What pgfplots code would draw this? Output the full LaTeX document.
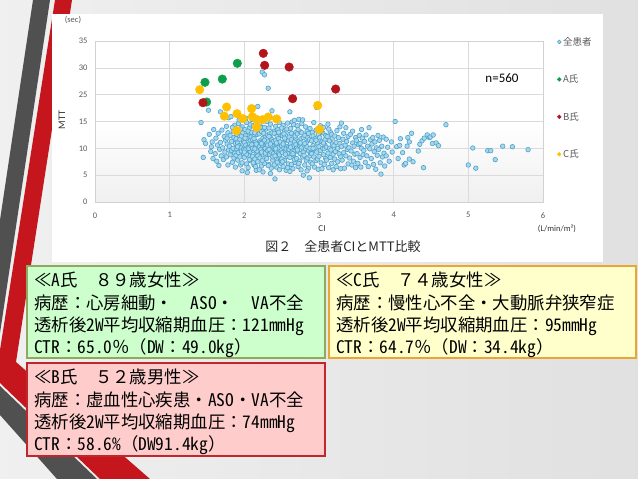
\documentclass[border=0pt]{standalone}
\usepackage{fontspec}
\usepackage{pgfplots}
\pgfplotsset{compat=1.18}
\setmainfont{Carlito}
\newfontfamily\jp{Noto Sans CJK JP}
\newfontfamily\hwfont[RawFeature=+hwid]{Noto Sans CJK JP}
\newcommand{\hw}[1]{{\hwfont #1}}
\definecolor{bluestroke}{HTML}{4BA3CC}
\definecolor{bluefill}{HTML}{A9D6EC}
\definecolor{agreen}{HTML}{0E9F4B}
\definecolor{bred}{HTML}{B3151B}
\definecolor{cyel}{HTML}{FFC000}
\definecolor{afill}{HTML}{CCFFCC}
\definecolor{aline}{HTML}{8FAA5C}
\definecolor{bfill}{HTML}{FFCCCC}
\definecolor{bline}{HTML}{C0272D}
\definecolor{cfill}{HTML}{FFFFCC}
\definecolor{cline}{HTML}{E8A735}
\definecolor{txtgray}{HTML}{595959}
\definecolor{stripedark}{HTML}{505050}
\definecolor{stripered}{HTML}{C4161C}
\begin{document}
\begin{tikzpicture}[x=1pt,y=1pt]
\useasboundingbox (0,0) rectangle (638,479);
\shade[left color=gray!12, right color=gray!24] (0,0) rectangle (638,479);
% decorative stripes
\fill[stripedark] (33,479) -- (50,479) -- (0,146) -- (0,259) -- cycle;
\fill[stripedark] (0,93) -- (97,0) -- (57,0) -- (0,64) -- cycle;
\fill[stripered] (55,479) -- (72,479) -- (16,117) -- (150,0) -- (100,0) -- (0,96) -- (0,129) -- cycle;
% chart area
\fill[white] (52,217) rectangle (603,465);
\begin{axis}[
  at={(95pt,277pt)}, anchor=south west,
  scale only axis, width=448pt, height=161pt,
  xmin=0, xmax=6, ymin=0, ymax=30,
  xtick={0,1,...,6}, ytick={0,5,...,30},
  yticklabels={0,5,10,15,25,30,35},
  grid=major, grid style={gray!28, line width=0.6pt},
  axis line style={gray!35, line width=0.6pt},
  major tick length=0pt,
  axis background/.style={shade, top color=white, bottom color=gray!12, middle color=white},
  /pgf/number format/assume math mode=true,
  ticklabel style={font=\fontsize{8.5}{10}\selectfont, text=txtgray},
  xticklabel style={yshift=-7pt},
  yticklabel style={xshift=-4pt},
  legend style={at={(1.025,1.05)}, anchor=north west, draw=none, fill=none,
    font=\jp\fontsize{9.5}{11}\selectfont, text=txtgray, row sep=24pt},
  legend cell align=left,
  legend image code/.code={\draw[#1, mark size=1.9pt] plot coordinates {(0.1cm,0cm)};},
]
\addplot[only marks, mark=*, mark size=2.3pt, mark options={draw=bluestroke, fill=bluefill, line width=0.6pt}] coordinates {
(1.42,14.8) (1.46,11.6) (1.48,10.9) (1.45,8.3)
(1.52,17.1) (1.53,12.6) (1.55,9.4) (1.57,11.2) (1.58,8.1) (1.56,10.3) (1.59,13.5)
(1.61,9.0) (1.62,11.9) (1.63,7.6) (1.64,10.6) (1.65,12.8) (1.66,6.8) (1.67,9.8) (1.68,16.8) (1.68,11.1) (1.69,8.6)
(1.70,13.4) (1.71,10.1) (1.72,7.9) (1.73,12.2) (1.74,9.3) (1.75,11.5) (1.76,14.1) (1.76,8.4) (1.77,10.8) (1.78,12.9) (1.78,6.9) (1.79,9.7) (1.79,15.7) (1.77,11.9)
(1.80,10.4) (1.81,8.8) (1.81,12.4) (1.82,15.9) (1.83,9.6) (1.83,11.3) (1.84,7.4) (1.85,13.2) (1.85,10.0) (1.86,8.2) (1.86,12.0) (1.87,9.1) (1.87,14.3) (1.88,10.9) (1.88,6.5) (1.89,11.8) (1.89,8.7) (1.84,13.9)
(1.90,9.9) (1.90,12.6) (1.91,7.8) (1.91,11.0) (1.92,14.6) (1.92,9.2) (1.93,10.5) (1.93,13.1) (1.94,8.4) (1.94,11.7) (1.95,6.9) (1.95,10.1) (1.96,12.3) (1.96,9.5) (1.97,14.0) (1.97,7.3) (1.98,10.8) (1.98,12.9) (1.99,8.9) (1.99,11.4) (1.93,15.3) (1.97,5.8) (1.95,13.6) (1.99,9.8) (1.91,10.3)
(2.00,11.1) (2.00,8.3) (2.01,13.5) (2.01,9.7) (2.02,10.6) (2.02,12.4) (2.03,7.1) (2.03,14.8) (2.04,9.0) (2.04,11.8) (2.05,10.2) (2.05,6.4) (2.06,12.9) (2.06,8.7) (2.07,10.9) (2.07,13.9) (2.08,9.4) (2.08,11.5) (2.09,7.7) (2.09,12.1) (2.02,15.6) (2.04,5.5) (2.06,10.0) (2.08,14.4) (2.01,11.9) (2.03,8.9) (2.05,13.2) (2.07,7.9) (2.09,10.4) (2.00,9.3)
(2.10,10.7) (2.10,13.0) (2.11,8.5) (2.11,11.6) (2.12,9.6) (2.12,14.2) (2.13,6.9) (2.13,12.2) (2.14,10.1) (2.14,8.0) (2.15,11.3) (2.15,13.7) (2.16,9.2) (2.16,5.9) (2.17,12.6) (2.17,10.5) (2.18,7.5) (2.18,14.9) (2.19,11.0) (2.19,9.0) (2.10,15.4) (2.12,7.3) (2.14,12.9) (2.16,10.8) (2.18,8.6) (2.11,10.0) (2.13,11.8) (2.15,6.6) (2.17,9.5) (2.19,13.4) (2.18,17.8) (2.14,9.9)
(2.20,10.3) (2.20,12.7) (2.21,8.2) (2.21,11.4) (2.22,9.8) (2.22,14.0) (2.23,6.7) (2.23,13.1) (2.24,10.6) (2.24,24.2) (2.25,8.8) (2.25,11.9) (2.26,9.4) (2.26,15.1) (2.27,23.7) (2.27,7.2) (2.28,12.3) (2.28,10.0) (2.29,8.5) (2.29,13.6) (2.20,6.0) (2.22,11.1) (2.24,7.7) (2.26,12.8) (2.28,9.1) (2.21,14.6) (2.23,10.9) (2.25,5.6) (2.27,11.5) (2.29,10.7) (2.23,9.3) (2.27,13.9)
(2.30,10.9) (2.30,8.1) (2.31,12.5) (2.31,9.6) (2.32,21.2) (2.32,11.2) (2.33,7.0) (2.33,13.8) (2.34,10.2) (2.34,8.9) (2.35,12.0) (2.35,14.5) (2.36,9.3) (2.36,6.3) (2.37,17.0) (2.37,11.6) (2.38,10.4) (2.38,7.8) (2.39,13.2) (2.39,9.0) (2.30,15.0) (2.32,6.8) (2.34,12.7) (2.36,11.0) (2.38,8.4) (2.31,10.6) (2.33,9.8) (2.35,5.3) (2.37,12.9) (2.39,11.3) (2.35,10.8) (2.33,12.2)
(2.40,10.0) (2.40,12.8) (2.41,4.3) (2.41,8.6) (2.42,11.5) (2.42,14.1) (2.43,9.4) (2.43,6.5) (2.44,12.2) (2.44,10.7) (2.45,7.9) (2.45,13.5) (2.46,9.1) (2.46,11.8) (2.47,6.0) (2.47,14.8) (2.48,10.3) (2.48,8.2) (2.49,12.5) (2.49,9.7) (2.41,15.6) (2.43,11.0) (2.45,10.1) (2.47,8.8) (2.49,7.2) (2.42,9.9) (2.44,7.4) (2.46,13.0) (2.48,11.2) (2.40,6.9)
(2.50,10.5) (2.50,8.0) (2.51,12.4) (2.51,9.2) (2.52,14.3) (2.52,6.6) (2.53,11.1) (2.53,10.0) (2.54,7.7) (2.54,13.3) (2.55,9.6) (2.55,11.7) (2.56,5.9) (2.56,12.9) (2.57,10.3) (2.57,8.5) (2.58,14.7) (2.58,9.1) (2.59,11.4) (2.59,7.1) (2.50,13.8) (2.52,10.8) (2.54,11.9) (2.56,9.9) (2.58,6.4) (2.51,7.5) (2.53,12.7) (2.55,8.9) (2.57,13.6) (2.59,10.1)
(2.60,9.8) (2.60,12.1) (2.61,16.8) (2.61,8.3) (2.62,10.9) (2.62,13.7) (2.63,7.0) (2.63,11.6) (2.64,9.3) (2.64,14.9) (2.65,10.4) (2.65,6.2) (2.66,12.6) (2.66,8.8) (2.67,11.2) (2.67,15.2) (2.68,9.6) (2.68,7.4) (2.69,13.0) (2.69,10.7) (2.61,5.7) (2.63,12.8) (2.65,9.0) (2.67,7.9) (2.69,11.9) (2.62,10.2) (2.66,14.4) (2.68,12.3)
(2.70,10.0) (2.70,8.1) (2.71,12.7) (2.71,14.2) (2.72,9.4) (2.72,6.6) (2.73,11.3) (2.73,15.4) (2.74,7.6) (2.74,10.8) (2.75,13.1) (2.75,9.0) (2.76,11.8) (2.76,6.0) (2.77,10.2) (2.77,14.6) (2.78,8.4) (2.78,15.3) (2.79,5.0) (2.79,12.0) (2.71,9.7) (2.73,7.2) (2.75,11.0) (2.77,12.9) (2.79,9.3) (2.72,13.5)
(2.80,10.6) (2.80,8.7) (2.81,12.4) (2.81,6.9) (2.82,9.9) (2.82,14.0) (2.83,11.1) (2.83,7.8) (2.84,13.2) (2.84,10.3) (2.85,8.2) (2.85,12.0) (2.86,9.5) (2.86,6.3) (2.87,4.5) (2.87,11.6) (2.88,10.0) (2.88,13.7) (2.89,7.4) (2.89,9.1) (2.81,10.9) (2.84,5.8) (2.86,12.8) (2.88,8.6)
(2.90,11.4) (2.90,9.0) (2.91,13.0) (2.91,7.1) (2.92,10.5) (2.92,12.3) (2.93,8.4) (2.93,14.8) (2.94,9.7) (2.94,6.5) (2.95,11.8) (2.95,10.1) (2.96,7.7) (2.96,13.4) (2.97,9.3) (2.97,17.6) (2.98,11.0) (2.98,8.0) (2.99,12.6) (2.99,6.1) (2.92,10.0) (2.96,11.5)
(3.00,10.3) (3.00,8.5) (3.01,12.0) (3.02,9.6) (3.02,14.2) (3.03,7.3) (3.04,11.2) (3.04,6.2) (3.05,10.0) (3.05,12.9) (3.06,8.8) (3.06,13.9) (3.07,9.9) (3.07,7.0) (3.08,11.6) (3.08,10.6) (3.09,8.1) (3.09,12.4) (3.03,13.2) (3.06,11.0)
(3.10,10.2) (3.10,7.8) (3.11,12.2) (3.12,9.1) (3.12,14.5) (3.13,6.4) (3.14,11.4) (3.14,10.0) (3.15,8.3) (3.15,13.1) (3.16,9.7) (3.17,12.6) (3.17,7.2) (3.18,10.8) (3.18,11.9) (3.19,8.9) (3.19,6.0) (3.13,13.6)
(3.20,10.5) (3.21,8.0) (3.21,12.3) (3.22,9.4) (3.23,11.1) (3.23,6.6) (3.24,13.3) (3.25,10.0) (3.25,7.5) (3.26,12.0) (3.27,9.0) (3.28,10.9) (3.28,14.0) (3.29,8.4) (3.29,6.2)
(3.30,14.7) (3.30,10.3) (3.31,7.8) (3.32,11.7) (3.33,9.2) (3.33,12.8) (3.34,6.3) (3.35,10.6) (3.36,13.85) (3.36,8.6) (3.37,11.3) (3.38,9.8) (3.39,7.1) (3.39,12.2)
(3.40,10.1) (3.41,8.2) (3.42,12.6) (3.43,9.5) (3.44,6.9) (3.45,11.0) (3.45,13.2) (3.46,7.6) (3.47,10.4) (3.48,8.9) (3.49,12.0) (3.49,6.4)
(3.50,11.5) (3.51,9.0) (3.52,7.2) (3.53,10.7) (3.54,12.4) (3.55,8.3) (3.56,6.5) (3.57,13.5) (3.57,10.0) (3.58,11.9) (3.59,8.8) (3.55,10.9)
(3.60,9.6) (3.61,11.3) (3.62,7.4) (3.63,12.5) (3.64,8.6) (3.65,10.4) (3.66,6.6) (3.67,13.85) (3.68,9.9) (3.69,11.6)
(3.70,8.1) (3.71,10.8) (3.72,12.0) (3.73,7.0) (3.74,9.4) (3.75,11.2) (3.76,6.1) (3.77,10.1) (3.78,8.7) (3.79,12.4)
(3.80,9.8) (3.81,11.5) (3.82,7.3) (3.83,5.2) (3.84,10.4) (3.85,8.4) (3.86,12.1) (3.87,9.1) (3.88,6.7)
(3.90,8.6) (3.90,11.7) (3.92,10.2) (3.94,7.6) (3.97,11.2) (3.98,9.3)
(4.02,15.0) (4.04,10.3) (4.06,8.1) (4.08,10.56) (4.09,11.8)
(4.12,9.2) (4.14,6.9) (4.16,7.2) (4.18,10.4) (4.19,12.0)
(4.21,11.2) (4.21,8.0) (4.24,12.8) (4.26,7.5)
(4.33,9.5) (4.35,10.75) (4.38,11.4) (4.40,6.4)
(4.41,11.9) (4.45,12.5) (4.48,12.0) (4.49,12.1)
(4.52,10.9) (4.53,12.5) (4.57,11.0) (4.60,10.5)
(4.70,14.4)
(5.00,6.9) (5.06,10.06) (5.10,6.3) (5.26,9.56) (5.30,9.56) (5.36,7.9) (5.46,10.4) (5.59,10.3) (5.80,9.75)
};
\addlegendentry{全患者}
\addplot[only marks, mark=*, mark size=4.3pt, mark options={draw=agreen, fill=agreen}] coordinates {
(1.906,25.84) (1.473,22.3) (1.705,22.9) (1.495,18.63)
};
\addlegendentry{A氏}
\addplot[only marks, mark=*, mark size=4.3pt, mark options={draw=bred, fill=bred}] coordinates {
(2.254,27.7) (2.272,25.47) (2.60,25.15) (2.647,19.25) (3.223,21.05) (1.446,18.5)
};
\addlegendentry{B氏}
\addplot[only marks, mark=*, mark size=4.3pt, mark options={draw=cyel, fill=cyel}] coordinates {
(1.402,20.93) (1.763,17.7) (1.732,16.0) (1.902,16.46) (1.982,15.53) (2.098,17.4) (2.107,15.9) (2.165,15.4) (2.241,15.34) (2.321,15.84) (2.433,15.47) (2.165,13.9) (1.897,13.29) (2.982,18.0) (3.005,13.53)
};
\addlegendentry{C氏}
\end{axis}
% axis texts
\node[font=\fontsize{8.5}{10}\selectfont, text=txtgray] at (73,459) {(sec)};
\node[font=\fontsize{10}{12}\selectfont, text=black!80, rotate=90] at (62,359) {MTT};
\node[font=\fontsize{9}{11}\selectfont, text=black!80] at (322,250) {CI};
\node[font=\fontsize{8.5}{10}\selectfont, text=black!80] at (557,250) {(L/min/m²)};
\node[font=\fontsize{13}{15}\selectfont] at (502,401) {n=560};
\node[font=\jp\fontsize{13}{15}\selectfont, text=black!85] at (343,232) {図２　全患者CIとMTT比較};
% boxes
\filldraw[fill=afill, draw=aline, line width=2pt] (27,213) rectangle (325,121);
\filldraw[fill=bfill, draw=bline, line width=2pt] (27,116) rectangle (325,23);
\filldraw[fill=cfill, draw=cline, line width=2pt] (329,213) rectangle (636,121);
\node[anchor=north west, inner sep=0pt, align=left, font=\jp\fontsize{17.4}{22.3}\selectfont] at (34,207) {≪\hw{A}氏　８９歳女性≫\\病歴：心房細動・　\hw{ASO}・　\hw{VA}不全\\透析後\hw{2W}平均収縮期血圧：\hw{121mmHg}\\\hw{CTR}：\hw{65.0}％（\hw{DW}：\hw{49.0kg}）};
\node[anchor=north west, inner sep=0pt, align=left, font=\jp\fontsize{17.4}{22.3}\selectfont] at (34,110) {≪\hw{B}氏　５２歳男性≫\\病歴：虚血性心疾患・\hw{ASO}・\hw{VA}不全\\透析後\hw{2W}平均収縮期血圧：\hw{74mmHg}\\\hw{CTR}：\hw{58.6\%}（\hw{DW91.4kg}）};
\node[anchor=north west, inner sep=0pt, align=left, font=\jp\fontsize{17.4}{22.3}\selectfont] at (336,207) {≪\hw{C}氏　７４歳女性≫\\病歴：慢性心不全・大動脈弁狭窄症\\透析後\hw{2W}平均収縮期血圧：\hw{95mmHg}\\\hw{CTR}：\hw{64.7}％（\hw{DW}：\hw{34.4kg}）};
\end{tikzpicture}
\end{document}
